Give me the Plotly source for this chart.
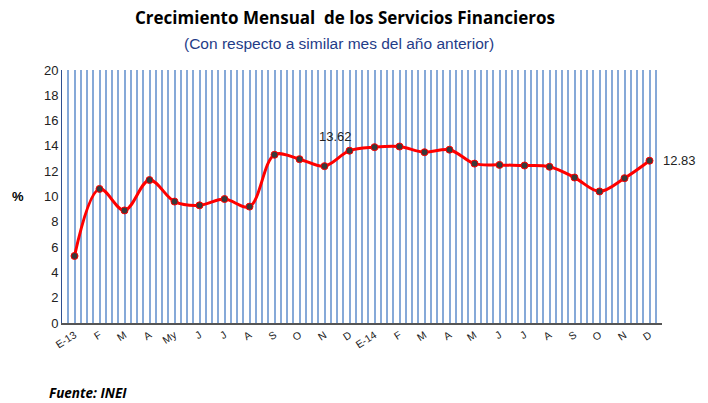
import plotly.graph_objects as go

# 25 months: E-13 .. D-14
months = ["E-13", "F", "M", "A", "My", "J", "J", "A", "S", "O", "N", "D",
          "E-14", "F", "M", "A", "M", "J", "J", "A", "S", "O", "N", "D"]
values = [5.3, 10.6, 8.9, 11.3, 9.6, 9.3, 9.8, 9.2, 13.3, 12.95, 12.4, 13.62,
          13.9, 13.95, 13.5, 13.7, 12.6, 12.5, 12.45, 12.35, 11.5, 10.4, 11.45, 12.83]
yticks = list(range(0, 21, 2))
labeled = {11: "13.62", 23: "12.83"}

x = list(range(len(months)))

fig = go.Figure()
fig.add_trace(go.Scatter(
    x=x, y=values, mode="lines+markers",
    line=dict(color="#FF0000", width=3, shape="spline", smoothing=1.0),
    marker=dict(color="#3a3a3a", size=7, line=dict(color="#FF0000", width=1)),
    hoverinfo="skip", showlegend=False,
))

annotations = []
for i, txt in labeled.items():
    if i == len(months) - 1:
        annotations.append(dict(x=x[i], y=values[i], text=txt, showarrow=False,
                                xanchor="left", yanchor="middle", xshift=11,
                                font=dict(family="Arial, Liberation Sans", size=13, color="#222")))
    else:
        annotations.append(dict(x=x[i], y=values[i], text=txt, showarrow=False,
                                xanchor="right", yanchor="bottom", yshift=5, xshift=4,
                                font=dict(family="Arial, Liberation Sans", size=13, color="#222")))

annotations += [
    dict(text="<b>Crecimiento Mensual  de los Servicios Financieros</b>", x=(345 - 62) / 600, y=1.0,
         xref="paper", yref="paper", yanchor="middle", xanchor="center", yshift=70 - 17, showarrow=False,
         font=dict(family="Open Sans", size=17, color="#000")),
    dict(text="(Con respecto a similar mes del año anterior)", x=(339 - 62) / 600, y=1.0,
         xref="paper", yref="paper", yanchor="middle", xanchor="center", yshift=70 - 43, showarrow=False,
         font=dict(family="Arial, Liberation Sans", size=15.5, color="#1F3C88")),
    dict(text="<b>%</b>", x=(18 - 62) / 600, y=10, xref="paper", yref="y", showarrow=False,
         xanchor="center", yanchor="middle",
         font=dict(family="Arial, Liberation Sans", size=13, color="#000")),
    dict(text="<b><i>Fuente: INEI</i></b>", x=(47 - 62) / 600, y=-(393 - 323) / 253,
         xref="paper", yref="paper", showarrow=False, xanchor="left", yanchor="middle",
         font=dict(family="Open Sans", size=13.5, color="#000")),
]

fig.update_layout(
    width=708, height=403,
    margin=dict(l=62, r=46, t=70, b=80, autoexpand=False),
    paper_bgcolor="white", plot_bgcolor="white",
    annotations=annotations,
    xaxis=dict(
        range=[-0.5, len(months) - 0.5],
        tickvals=x, ticktext=months, tickangle=-33,
        tickfont=dict(family="Arial, Liberation Sans", size=10.5, color="#222"),
        showgrid=False, zeroline=False,
        showline=True, linecolor="#555", linewidth=2,
        ticks="", fixedrange=True,
        minor=dict(tick0=0, dtick=0.25, showgrid=True, gridcolor="#86A9D8", gridwidth=2),
    ),
    yaxis=dict(
        range=[0, 20], tickvals=yticks,
        tickfont=dict(family="Arial, Liberation Sans", size=13, color="#222"),
        showgrid=False, zeroline=False,
        showline=True, linecolor="#2F4F8F", linewidth=1,
        ticks="", ticklen=0, fixedrange=True,
    ),
)

fig.write_html("out.html", config={"displayModeBar": False, "staticPlot": True},
               post_script="document.body.style.margin='0';document.body.style.padding='0';")
